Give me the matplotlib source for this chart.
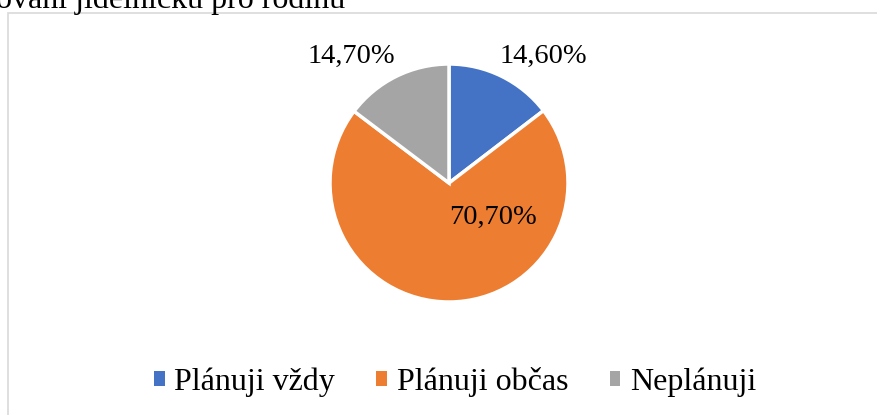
import matplotlib
matplotlib.use("Agg")
import matplotlib.pyplot as plt
from matplotlib.patches import Patch, Rectangle

# data
categories = ["Plánuji vždy", "Plánuji občas", "Neplánuji"]
values = [14.6, 70.7, 14.7]
labels = ["14,60%", "70,70%", "14,70%"]
colors = ["#4472C4", "#ED7D31", "#A5A5A5"]

plt.rcParams["font.family"] = ["Liberation Serif", "DejaVu Serif"]

fig = plt.figure(figsize=(8.78, 4.15), dpi=100)
W, H = 878, 415

# chart area border (partially cropped)
fig.add_artist(Rectangle((8 / W, -0.1), 1.2, 1.1 - 13 / H,
                         transform=fig.transFigure, fill=False,
                         edgecolor="#D9D9D9", linewidth=1.2))

# title cropped at the top
fig.text(-4 / W, 1 - 8 / H, "ování jídelníčku pro rodinu", fontsize=23,
         ha="left", va="baseline")

# pie axes: center (449,183), radius 119 px
cx, cy, r = 449, 183, 119
ax = fig.add_axes([(cx - r) / W, (H - cy - r) / H, 2 * r / W, 2 * r / H])
ax.pie(values, colors=colors, startangle=90, counterclock=False,
       wedgeprops=dict(edgecolor="white", linewidth=2.5), radius=1)
ax.set_xlim(-1, 1)
ax.set_ylim(-1, 1)
ax.set_aspect("equal")
ax.axis("off")

# label positions (relative to pie radius)
label_pos = [(0.79, 1.06), (0.37, -0.29), (-0.82, 1.06)]
for lab, (lx, ly) in zip(labels, label_pos):
    ax.text(lx, ly, lab, fontsize=20.5, ha="center", va="center")

handles = [Patch(facecolor=c, edgecolor="none") for c in colors]
fig.legend(handles, categories, loc="center", bbox_to_anchor=(455 / W, 1 - 382 / H),
           ncol=3, frameon=False, fontsize=23, handlelength=0.33, handleheight=0.33,
           handletextpad=0.3, columnspacing=1.3)

fig.savefig("out.png", dpi=100)
